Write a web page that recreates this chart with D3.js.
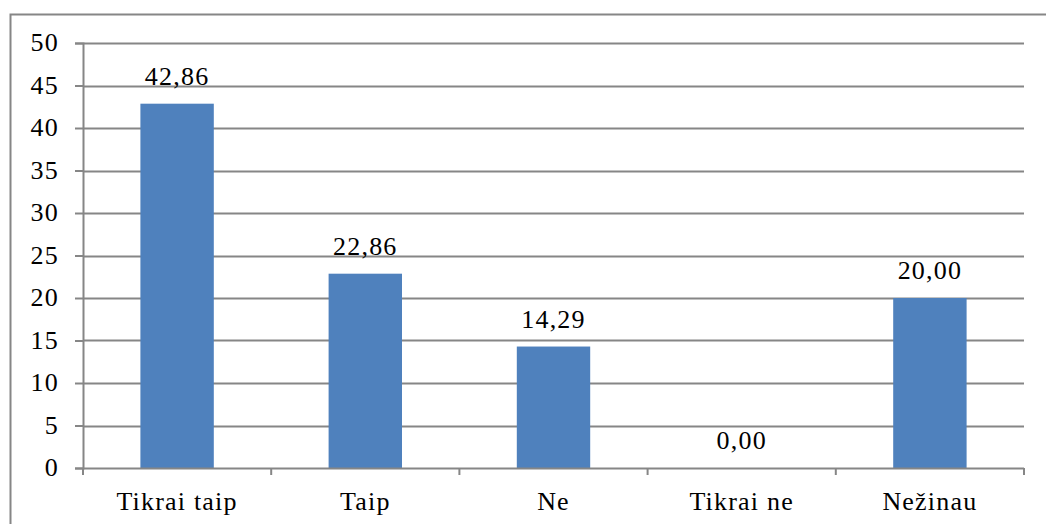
<!DOCTYPE html>
<html>
<head>
<meta charset="utf-8">
<script src="https://cdn.jsdelivr.net/npm/d3@7"></script>
<style>
  html, body { margin: 0; padding: 0; background: #fff; }
  svg { display: block; }
</style>
</head>
<body>
<svg id="chart" width="1046" height="524"></svg>
<script>
const categories = ["Tikrai taip", "Taip", "Ne", "Tikrai ne", "Nežinau"];
const values = [42.86, 22.86, 14.29, 0.00, 20.00];
const yTicks = [0, 5, 10, 15, 20, 25, 30, 35, 40, 45, 50];

const svg = d3.select("#chart");
const plot = { left: 83, right: 1024, top: 43, bottom: 468 };
const grey = "#868686";

function styleText(sel) {
  return sel.attr("font-family", "Liberation Serif")
    .style("font-family", '"Liberation Serif"')
    .style("font-size", "26px")
    .style("letter-spacing", "1.2px")
    .attr("fill", "#000");
}

// outer chart frame
svg.append("rect")
  .attr("x", 10.5).attr("y", 14.5)
  .attr("width", 1100).attr("height", 600)
  .attr("fill", "none").attr("stroke", grey).attr("stroke-width", 2);

const x = d3.scaleBand().domain(categories).range([plot.left, plot.right]).paddingInner(0.61).paddingOuter(0.305);
const xCat = d3.scaleBand().domain(categories).range([plot.left, plot.right]);
const y = d3.scaleLinear().domain([0, 50]).range([plot.bottom, plot.top]);

// horizontal gridlines
svg.append("g").selectAll("line").data(yTicks.filter(d => d > 0)).join("line")
  .attr("x1", plot.left).attr("x2", plot.right)
  .attr("y1", d => Math.round(y(d)) + 0.5).attr("y2", d => Math.round(y(d)) + 0.5)
  .attr("stroke", grey).attr("stroke-width", 2);

// bars
svg.append("g").selectAll("rect").data(values).join("rect")
  .attr("x", (d, i) => x(categories[i]))
  .attr("width", x.bandwidth())
  .attr("y", d => y(d))
  .attr("height", d => y(0) - y(d))
  .attr("fill", "#4F81BD");

// y axis
const yAxis = svg.append("g").attr("transform", `translate(${plot.left},0)`)
  .call(d3.axisLeft(y).tickValues(yTicks).tickSize(8).tickPadding(16).tickFormat(d3.format("d")));
yAxis.attr("font-family", "Liberation Serif").attr("font-size", null);
yAxis.select(".domain").attr("stroke", grey).attr("stroke-width", 2);
yAxis.selectAll(".tick line").attr("stroke", grey).attr("stroke-width", 2);
styleText(yAxis.selectAll(".tick text")).attr("dy", "0.3em");

// x axis with boundary ticks between categories
const xAxisG = svg.append("g");
xAxisG.append("line")
  .attr("x1", plot.left).attr("x2", plot.right)
  .attr("y1", plot.bottom + 0.5).attr("y2", plot.bottom + 0.5)
  .attr("stroke", grey).attr("stroke-width", 2);
const bounds = categories.map(c => xCat(c)).concat([plot.right]);
xAxisG.selectAll("line.tk").data(bounds).join("line").attr("class", "tk")
  .attr("x1", d => d).attr("x2", d => d)
  .attr("y1", plot.bottom).attr("y2", plot.bottom + 7)
  .attr("stroke", grey).attr("stroke-width", 2);
styleText(xAxisG.selectAll("text").data(categories).join("text")
  .attr("x", d => xCat(d) + xCat.bandwidth() / 2)
  .attr("y", 510)
  .attr("text-anchor", "middle")
  .text(d => d));

// value labels
const fmt = v => v.toFixed(2).replace(".", ",");
styleText(svg.append("g").selectAll("text").data(values).join("text")
  .attr("x", (d, i) => xCat(categories[i]) + xCat.bandwidth() / 2)
  .attr("y", d => y(d) - 19)
  .attr("text-anchor", "middle")
  .text(d => fmt(d)));
</script>
</body>
</html>
